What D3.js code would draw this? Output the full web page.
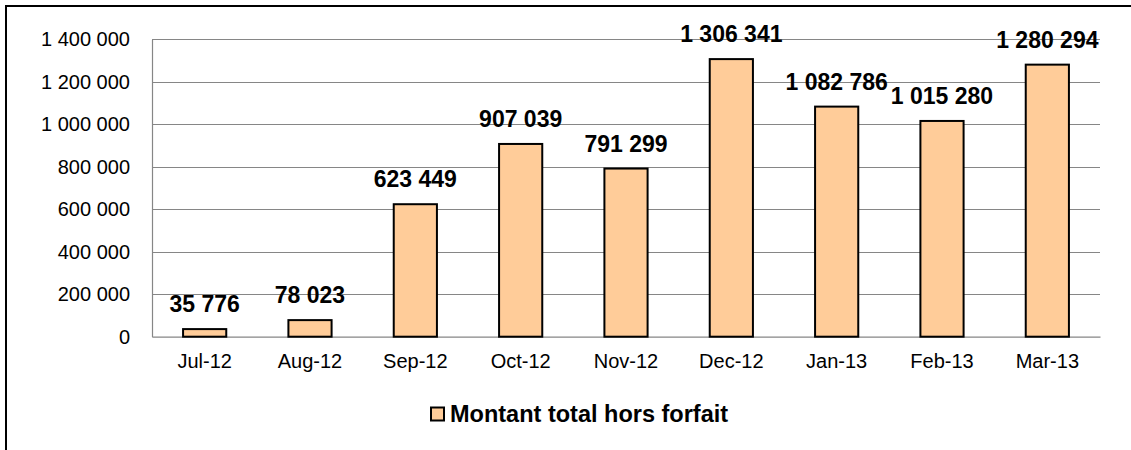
<!DOCTYPE html>
<html><head><meta charset="utf-8">
<script src="https://cdn.jsdelivr.net/npm/d3@7"></script>
<style>html,body{margin:0;padding:0;background:#fff;}svg{display:block;}</style>
</head><body>
<svg id="chart" width="1131" height="450"></svg>
<script>
const categories = ["Jul-12","Aug-12","Sep-12","Oct-12","Nov-12","Dec-12","Jan-13","Feb-13","Mar-13"];
const values = [35776, 78023, 623449, 907039, 791299, 1306341, 1082786, 1015280, 1280294];
const yTicks = [0, 200000, 400000, 600000, 800000, 1000000, 1200000, 1400000];
const seriesName = "Montant total hors forfait";

const svg = d3.select("#chart");
const font = "Arial, 'Liberation Sans', sans-serif";
const fmt = v => d3.format(",")(v).replace(/,/g, " ");

svg.append("rect").attr("x",6).attr("y",6).attr("width",1300).attr("height",600)
  .attr("fill","none").attr("stroke","#000").attr("stroke-width",2);

const pLeft = 152, pRight = 1100, pTop = 39.2, pBottom = 336.7;
const x = d3.scaleBand().domain(categories).range([pLeft, pRight]).paddingInner(0.59).paddingOuter(0.295);
const y = d3.scaleLinear().domain([0, 1400000]).range([pBottom, pTop]);

// gridlines
svg.append("g").selectAll("line").data(yTicks.filter(d=>d>0)).join("line")
  .attr("x1", pLeft).attr("x2", pRight)
  .attr("y1", d=>Math.round(y(d))+0.5).attr("y2", d=>Math.round(y(d))+0.5)
  .attr("stroke","#868686").attr("stroke-width",1.2);

// y axis
const yAxis = svg.append("g").attr("transform",`translate(${pLeft},0)`)
  .call(d3.axisLeft(y).tickValues(yTicks).tickFormat(fmt).tickSize(0).tickPadding(22));
yAxis.select(".domain").attr("stroke","#868686").attr("stroke-width",1.2);
yAxis.selectAll("text").attr("font-family",font).attr("font-size","20px").attr("fill","#000");

// x axis
const xAxis = svg.append("g").attr("transform",`translate(0,${pBottom})`)
  .call(d3.axisBottom(x).tickSize(0).tickPadding(17));
xAxis.select(".domain").attr("stroke","#868686").attr("stroke-width",1.2);
xAxis.selectAll("text").attr("font-family",font).attr("font-size","20px").attr("fill","#000");

// bars
svg.append("g").selectAll("rect").data(values).join("rect")
  .attr("x",(d,i)=>x(categories[i]))
  .attr("width",x.bandwidth())
  .attr("y",d=>y(d))
  .attr("height",d=>pBottom-y(d))
  .attr("fill","#FFCC99").attr("stroke","#000").attr("stroke-width",2);

// labels
svg.append("g").selectAll("text").data(values).join("text")
  .attr("x",(d,i)=>x(categories[i])+x.bandwidth()/2)
  .attr("y",d=>y(d)-17)
  .attr("text-anchor","middle")
  .attr("font-family",font).attr("font-size","23px").attr("font-weight","bold")
  .text(fmt);

// legend
const lg = svg.append("g");
lg.append("rect").attr("x",431).attr("y",407.5).attr("width",13).attr("height",13)
  .attr("fill","#FFCC99").attr("stroke","#000").attr("stroke-width",2);
lg.append("text").attr("x",450).attr("y",421.5)
  .attr("font-family",font).attr("font-size","23.5px").attr("font-weight","bold")
  .text(seriesName);
</script>
</body></html>
